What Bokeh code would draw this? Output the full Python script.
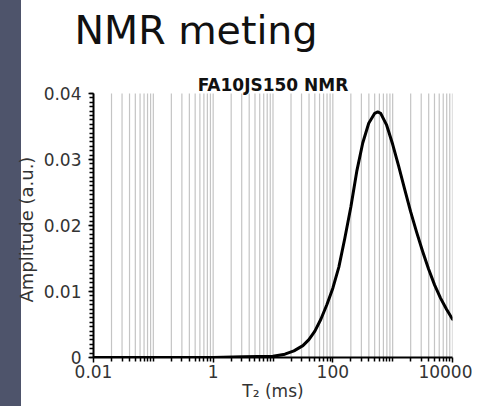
from bokeh.plotting import figure
from bokeh.models import (FixedTicker, SingleIntervalTicker, CustomJSTickFormatter,
                          Title, Label)
from bokeh.embed import file_html
from bokeh.resources import INLINE

# ---- data ----
t2_ms = [0.01, 0.1, 1, 3.16, 10, 15.8, 22.4, 31.6, 39.8, 50.1, 63.1, 79.4, 100,
         126, 158, 200, 251, 316, 398, 501, 562, 631, 794, 1000, 1259, 1585,
         1995, 2512, 3162, 3981, 5012, 6310, 7943, 10000]
amplitude = [0.0, 0.0, 0.0, 0.0001, 0.0002, 0.0005, 0.0010, 0.0018, 0.0027, 0.0040,
             0.0058, 0.0080, 0.0105, 0.0137, 0.0180, 0.0228, 0.0282, 0.0325, 0.0355,
             0.0370, 0.0372, 0.0370, 0.0352, 0.0323, 0.0290, 0.0255, 0.0221, 0.0190,
             0.0161, 0.0134, 0.0110, 0.0090, 0.0073, 0.0058]

x_major_ticks = [0.01, 1, 100, 10000]
x_grid_values = [m * 10.0 ** k for k in range(-2, 4) for m in range(1, 10)] + [10000]
x_minor_ticks = [v for v in x_grid_values if v not in x_major_ticks]
y_min, y_max = 0.0, 0.04

slide_title = "NMR meting"
chart_title = "FA10JS150 NMR"
y_label = "Amplitude (a.u.)"
x_label = "T\u2082 (ms)"

# ---- layout (pixels) ----
W, H = 472, 406
BAR_W = 21
LEFT, RIGHT, TOP, BOTTOM = 93, 20, 54, 49     # borders around the frame
PLOT_TOP_PX = 93                               # where y_max sits on the page
frame_h = H - TOP - BOTTOM
plot_h = H - BOTTOM - PLOT_TOP_PX
y_top = y_max * frame_h / plot_h               # frame extends above y_max for the chart title

p = figure(width=W, height=H, x_axis_type="log", x_range=(0.01, 10000),
           y_range=(y_min, y_top), output_backend="svg", toolbar_location=None,
           min_border_left=LEFT, min_border_right=RIGHT, min_border_top=TOP,
           min_border_bottom=BOTTOM,
           styles={"background": f"linear-gradient(to right, #4e546b 0px, #4e546b {BAR_W}px, "
                                 f"#ffffff {BAR_W}px, #ffffff 100%)"})
p.outline_line_color = None
p.background_fill_color = "white"
p.border_fill_color = None
p.xgrid.visible = False
p.ygrid.visible = False

# slide title
p.title.text = slide_title
p.title.align = "left"
p.title.offset = -19
p.title.vertical_align = "top"
p.title.standoff = 0
p.title.text_font = "DejaVu Sans"
p.title.text_font_style = "normal"
p.title.text_font_size = "39.5px"
p.title.text_color = "#111111"

# y label (left title)
p.add_layout(Title(text=y_label, align="left", offset=55, vertical_align="bottom",
                   standoff=7, text_font="DejaVu Sans", text_font_size="18px",
                   text_font_style="normal", text_color="#333333"), "left")

# vertical grid lines (only up to y_max)
p.segment(x0=x_grid_values, y0=[y_min] * len(x_grid_values),
          x1=x_grid_values, y1=[y_max] * len(x_grid_values),
          line_color="#c4c4c4", line_width=1.2)

# x axis
xa = p.xaxis[0]
xa.ticker = FixedTicker(ticks=x_major_ticks, minor_ticks=x_minor_ticks)
xa.formatter = CustomJSTickFormatter(code="return String(tick)")
xa.axis_line_color = "black"
xa.axis_line_width = 2
xa.major_tick_line_color = "black"
xa.minor_tick_line_color = "black"
xa.major_tick_line_width = 1.5
xa.minor_tick_line_width = 1.5
xa.major_tick_out = 5
xa.major_tick_in = 0
xa.minor_tick_out = 4
xa.minor_tick_in = 0
xa.major_label_standoff = 2
xa.major_label_text_font = "DejaVu Sans"
xa.major_label_text_font_size = "17px"
xa.major_label_text_color = "#333333"
xa.axis_label = x_label
xa.axis_label_text_font = "DejaVu Sans"
xa.axis_label_text_font_size = "17px"
xa.axis_label_text_font_style = "normal"
xa.axis_label_text_color = "#333333"
xa.axis_label_standoff = 0

# y axis
ya = p.yaxis[0]
ya.ticker = SingleIntervalTicker(interval=0.01, num_minor_ticks=15)
ya.formatter = CustomJSTickFormatter(code="return Math.abs(tick) < 1e-9 ? '0' : tick.toFixed(2)")
ya.bounds = (y_min, y_max)
ya.axis_line_color = "black"
ya.axis_line_width = 2
ya.major_tick_line_color = "black"
ya.minor_tick_line_color = "black"
ya.major_tick_line_width = 1.5
ya.minor_tick_line_width = 1.5
ya.major_tick_out = 5
ya.major_tick_in = 0
ya.minor_tick_out = 4
ya.minor_tick_in = 0
ya.major_label_standoff = 7
ya.axis_label_standoff = 0
ya.major_label_text_font = "DejaVu Sans"
ya.major_label_text_font_size = "17px"
ya.major_label_text_color = "#333333"

# curve
p.line(t2_ms, amplitude, line_color="black", line_width=3, line_join="round",
       line_cap="round")

# chart title, inside the (extended) frame just above y_max
p.add_layout(Label(x=10, y=y_max * (1 + 9 / plot_h), text=chart_title, text_align="center",
                   text_baseline="alphabetic", text_font="DejaVu Sans",
                   text_font_style="bold", text_font_size="17px", text_color="#111111"))

open("out.html", "w").write(file_html(p, INLINE))
